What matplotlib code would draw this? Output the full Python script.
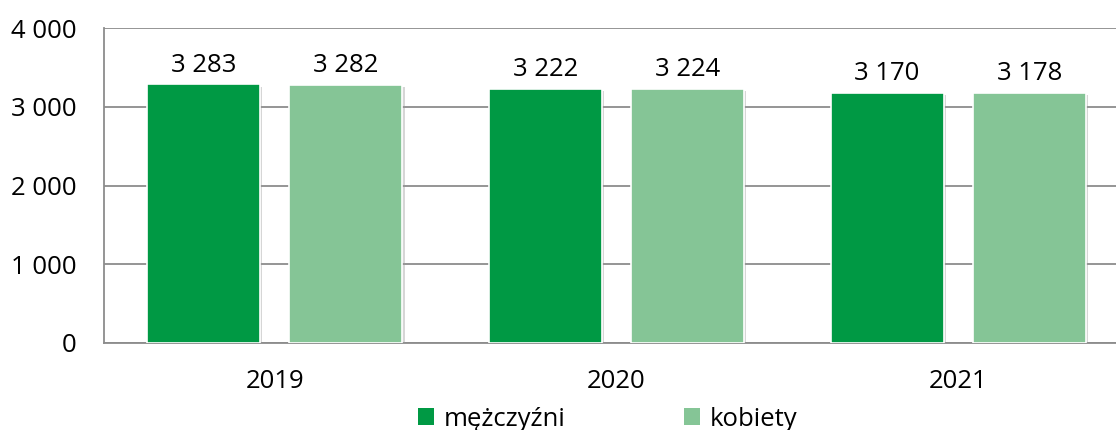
import matplotlib
matplotlib.use("Agg")
import matplotlib.pyplot as plt
import matplotlib.patheffects as pe
import numpy as np

years = ["2019", "2020", "2021"]
men = [3283, 3222, 3170]
women = [3282, 3224, 3178]
series_names = ["mężczyźni", "kobiety"]
yticks = [0, 1000, 2000, 3000, 4000]

plt.rcParams['font.family'] = ['Open Sans', 'DejaVu Sans']

def fmt(v):
    return f"{v:,}".replace(",", " ")

fig = plt.figure(figsize=(11.16, 4.30), dpi=100)
ax = fig.add_axes([104/1116, 87/430, (1129-104)/1116, (343-28)/430])

x = np.arange(len(years))
w = 0.331
off = 0.208
c1 = "#009944"
c2 = "#85C596"
shadow = [pe.SimplePatchShadow(offset=(1.5, -1.5), shadow_rgbFace='#999999', alpha=0.4), pe.Normal()]
b1 = ax.bar(x - off, men, w, color=c1, edgecolor="white", linewidth=1.2, label=series_names[0], zorder=3, path_effects=shadow)
b2 = ax.bar(x + off, women, w, color=c2, edgecolor="white", linewidth=1.2, label=series_names[1], zorder=3, path_effects=shadow)

fs = 18.5
for bars, vals in ((b1, men), (b2, women)):
    for r, v in zip(bars, vals):
        ax.annotate(fmt(v), (r.get_x() + r.get_width()/2, v), xytext=(0, 5),
                    textcoords="offset points", ha="center", va="bottom", fontsize=fs, color="black")

ax.set_xlim(-0.5, len(years) - 0.5)
ax.set_ylim(0, 4000)
ax.set_yticks(yticks)
ax.set_yticklabels([fmt(t) for t in yticks])
ax.set_xticks(x)
ax.set_xticklabels(years)
ax.tick_params(axis='both', length=0, labelsize=fs, colors='black')
ax.tick_params(axis='y', pad=20)
ax.tick_params(axis='x', pad=19)
ax.grid(axis='y', color='#8c8c8c', linewidth=1.3, zorder=0)
for s in ['top', 'right']:
    ax.spines[s].set_visible(False)
ax.spines['left'].set_color('#8c8c8c')
ax.spines['left'].set_linewidth(1.3)
ax.spines['bottom'].set_color('#8c8c8c')
ax.spines['bottom'].set_linewidth(1.3)

leg = fig.legend(handles=[b1, b2], labels=series_names, loc='center', bbox_to_anchor=(608/1116, 1 - 419/430),
                 ncol=2, frameon=False, fontsize=fs, handlelength=0.6, handleheight=0.6,
                 handletextpad=0.4, columnspacing=4.6, borderpad=0)
for h in leg.legend_handles:
    h.set_path_effects([])
    h.set_edgecolor('none')

fig.savefig("out.png", dpi=100)
